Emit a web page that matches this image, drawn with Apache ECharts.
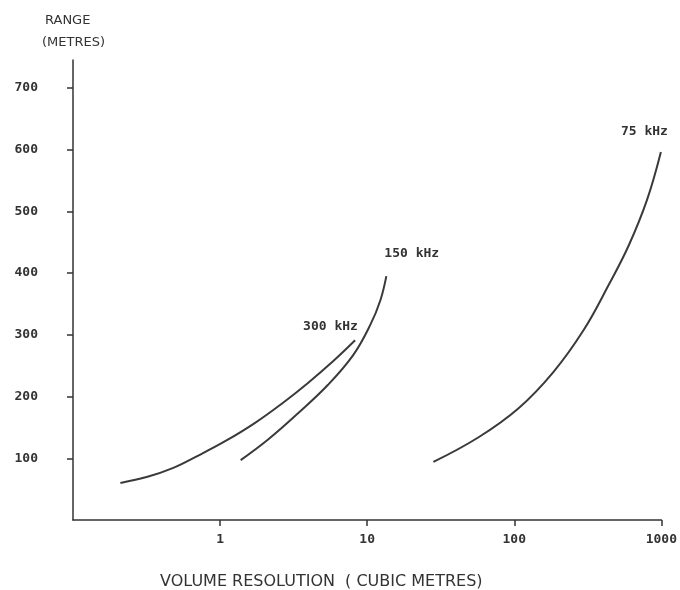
<!DOCTYPE html>
<html>
<head>
<meta charset="utf-8">
<script src="https://cdn.jsdelivr.net/npm/echarts@6/dist/echarts.min.js"></script>
<style>html,body{margin:0;padding:0;background:#fff}#c{width:680px;height:590px}</style>
</head>
<body>
<div id="c"></div>
<script>
// Data (x: cubic metres, y: metres)
const s300x = [0.21, 0.321, 0.476, 0.705, 1.09, 1.72, 2.68, 3.96, 5.86, 8.28];
const s300y = [60, 70, 84, 104, 128, 157, 190, 222, 257, 291];
const s150x = [1.38, 2.11, 3.39, 5.42, 8.03, 10.5, 12.3, 13.5];
const s150y = [97, 130, 173, 219, 267, 316, 356, 395];
const s75x = [28.2, 57.2, 107, 185, 297, 439, 601, 798, 993];
const s75y = [94, 134, 181, 240, 308, 381, 445, 518, 596];
const xTicks = [1, 10, 100, 1000];
const yTicks = [100, 200, 300, 400, 500, 600, 700];
const seriesNames = ['300 kHz', '150 kHz', '75 kHz'];

const zip = (xs, ys) => xs.map((x, i) => [x, ys[i]]);
const lineCol = '#3a3a3a';
const font = '"DejaVu Sans Mono", monospace';

const chart = echarts.init(document.getElementById('c'), null, {renderer: 'canvas'});
function mk(name, data, labelOffset) {
  return {
    type: 'line', name, data, smooth: 0.4, symbol: 'none',
    lineStyle: {color: lineCol, width: 2},
    endLabel: {show: true, formatter: name, color: '#333', fontFamily: font,
      fontWeight: 'bold', fontSize: 13, offset: labelOffset, align: 'left'}
  };
}
chart.setOption({
  animation: false,
  grid: {left: 73, right: 17, top: 60, bottom: 70},
  title: [
    {text: 'RANGE', left: 40, top: 9,
      textStyle: {fontFamily: '"DejaVu Sans", sans-serif', fontWeight: 'normal', fontSize: 13, color: '#333'}},
    {text: '(METRES)', left: 37, top: 31,
      textStyle: {fontFamily: '"DejaVu Sans", sans-serif', fontWeight: 'normal', fontSize: 13, color: '#333'}},
    {text: 'VOLUME RESOLUTION  ( CUBIC METRES)', left: 155, top: 569,
      textStyle: {fontFamily: '"DejaVu Sans", sans-serif', fontWeight: 'normal', fontSize: 16, color: '#333'}}
  ],
  xAxis: {
    type: 'log', logBase: 10, min: 0.1, max: 1000,
    axisLine: {lineStyle: {color: '#333', width: 1.5}},
    axisTick: {show: true, length: 6, lineStyle: {color: '#333', width: 1.5}, customValues: xTicks},
    axisLabel: {customValues: xTicks, formatter: v => String(v), margin: 13,
      fontFamily: font, fontWeight: 'bold', fontSize: 13, color: '#333'},
    splitLine: {show: false}, minorTick: {show: false}
  },
  yAxis: {
    type: 'value', min: 0, max: 745,
    axisLine: {show: true, lineStyle: {color: '#333', width: 1.5}},
    axisTick: {show: true, length: 6, lineStyle: {color: '#333', width: 1.5}, customValues: yTicks},
    axisLabel: {customValues: yTicks, margin: 35,
      fontFamily: font, fontWeight: 'bold', fontSize: 13, color: '#333'},
    splitLine: {show: false}
  },
  series: [
    mk(seriesNames[0], zip(s300x, s300y), [-60, -14]),
    mk(seriesNames[1], zip(s150x, s150y), [-10, -22]),
    mk(seriesNames[2], zip(s75x, s75y), [-48, -20])
  ]
});
</script>
</body>
</html>
